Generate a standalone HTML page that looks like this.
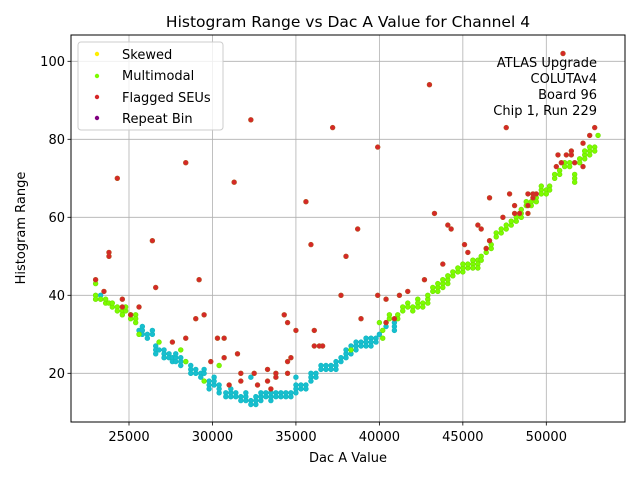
<!DOCTYPE html>
<html><head><meta charset="utf-8"><style>
html,body{margin:0;padding:0;background:#fff;}
svg{display:block;font-family:"DejaVu Sans","Liberation Sans",sans-serif;}
</style></head><body>
<svg id="chart" width="640" height="480" viewBox="0 0 640 480" xmlns="http://www.w3.org/2000/svg">
<rect width="640" height="480" fill="#fff"/>
<text x="348" y="27" font-size="15.5" text-anchor="middle">Histogram Range vs Dac A Value for Channel 4</text>
<g id="grid"></g>
<g id="marks"></g>
<rect x="71" y="35" width="554" height="387" fill="none" stroke="#000" stroke-width="1"/>
<g id="ticks"></g>
<text x="348" y="462" font-size="13" text-anchor="middle">Dac A Value</text>
<text transform="translate(25,228) rotate(-90)" font-size="13" text-anchor="middle">Histogram Range</text>
<g font-size="13" text-anchor="end">
<text x="597" y="67">ATLAS Upgrade</text>
<text x="597" y="83">COLUTAv4</text>
<text x="597" y="99">Board 96</text>
<text x="597" y="115">Chip 1, Run 229</text>
</g>
<g>
<rect x="78" y="42" width="145" height="88" rx="3" fill="#fff" fill-opacity="0.8" stroke="#ccc"/>
<g><circle cx="97" cy="54" r="2.2" fill="#ffee00"/><text x="122" y="59" font-size="13">Skewed</text></g>
<g><circle cx="97" cy="76" r="2.2" fill="#7cfc00"/><text x="122" y="80" font-size="13">Multimodal</text></g>
<g><circle cx="97" cy="97" r="2.2" fill="#d62728"/><text x="122" y="102" font-size="13">Flagged SEUs</text></g>
<g><circle cx="97" cy="118" r="2.2" fill="#800080"/><text x="122" y="123" font-size="13">Repeat Bin</text></g>
</g>
</svg>
<script>
const xTicks=[25000,30000,35000,40000,45000,50000];
const yTicks=[20,40,60,80,100];
const normalPts=[[23300,40],[25600,31],[25800,32],[25800,31],[25800,30],[26100,30],[26100,29],[26400,30],[26400,31],[26600,27],[26600,26],[26600,25],[26800,26],[27100,26],[27100,25],[27100,24],[27400,25],[27400,24],[27600,24],[27600,23],[27800,24],[27800,23],[27800,25],[28100,23],[28100,22],[28100,24],[28400,23],[28700,21],[28700,22],[28700,20],[29000,20],[29000,21],[29300,20],[29300,19],[29500,20],[29500,21],[29800,17],[29800,16],[29800,18],[30100,17],[30100,18],[30100,19],[30400,15],[30400,16],[30400,17],[30800,15],[30800,14],[31100,15],[31100,16],[31100,14],[31400,15],[31400,14],[31700,14],[31700,13],[32000,14],[32000,15],[32000,13],[32300,13],[32300,12],[32300,19],[32600,12],[32600,13],[32600,14],[32900,13],[32900,14],[32900,15],[33200,15],[33200,14],[33500,13],[33500,14],[33500,15],[33800,15],[33800,14],[34100,15],[34100,14],[34400,14],[34400,15],[34700,15],[34700,14],[35000,17],[35000,16],[35000,15],[35000,19],[35300,16],[35300,17],[35600,17],[35600,16],[35900,20],[35900,19],[35900,18],[36200,20],[36200,19],[36500,22],[36500,21],[36800,22],[36800,21],[37100,22],[37100,21],[37400,23],[37400,22],[37400,21],[37700,23],[37700,24],[38000,25],[38000,24],[38000,26],[38300,27],[38300,25],[38600,27],[38600,28],[38600,26],[38900,28],[38900,27],[39200,29],[39200,28],[39200,27],[39500,29],[39500,28],[39500,27],[39800,29],[39800,28],[40000,30],[40400,32],[40900,33],[40900,32],[40900,31]];
const multimodalPts=[[23000,40],[23000,39],[23000,43],[23300,39],[23600,38],[23600,39],[23800,38],[24000,37],[24000,38],[24300,37],[24300,36],[24600,36],[24600,35],[24800,36],[24800,37],[25100,34],[25100,35],[25400,35],[25400,33],[25400,34],[25600,30],[26800,28],[28100,26],[28400,23],[29500,18],[30400,22],[38300,26],[40000,33],[40200,31],[40200,29],[40400,33],[40600,34],[40600,35],[41100,35],[41100,34],[41400,37],[41400,36],[41700,38],[41700,37],[42000,37],[42000,36],[42300,39],[42300,38],[42300,37],[42600,38],[42600,37],[42900,39],[42900,40],[42900,38],[43200,41],[43200,42],[43500,42],[43500,43],[43500,41],[43800,43],[43800,44],[43800,42],[44100,43],[44100,44],[44100,45],[44400,45],[44400,46],[44700,46],[44700,47],[45000,46],[45000,47],[45000,48],[45300,47],[45300,48],[45600,48],[45600,49],[45600,47],[45900,49],[45900,48],[45900,47],[46100,50],[46100,49],[46400,51],[46400,52],[46700,52],[46700,53],[47000,56],[47000,55],[47300,56],[47300,57],[47600,57],[47600,58],[47900,58],[47900,59],[48200,60],[48200,59],[48500,62],[48500,61],[48500,60],[48800,64],[48800,63],[49100,64],[49100,63],[49400,65],[49400,64],[49700,67],[49700,66],[49700,68],[50000,67],[50000,66],[50200,68],[50200,67],[50500,70],[50500,71],[50800,72],[50800,71],[51100,74],[51100,73],[51400,74],[51400,73],[51700,71],[51700,70],[51700,69],[52000,75],[52000,74],[52300,76],[52300,77],[52300,75],[52600,77],[52600,78],[52600,76],[52900,78],[52900,77],[53100,81]];
const flaggedPts=[[23000,44],[23500,41],[23800,51],[23800,50],[24300,70],[24600,39],[24600,37],[25100,35],[25600,37],[26400,54],[26600,42],[27600,28],[28400,29],[28400,74],[29000,34],[29200,44],[29500,35],[29900,23],[30300,29],[30700,24],[30700,29],[31000,17],[31300,69],[31500,25],[31700,20],[31700,18],[32300,85],[32500,20],[32700,17],[33300,21],[33300,18],[33500,16],[33800,20],[33800,19],[34300,35],[34500,33],[34500,23],[34500,20],[34700,24],[35000,31],[35600,64],[35900,53],[36100,31],[36100,27],[36400,27],[36600,27],[37200,83],[37700,40],[38000,50],[38700,57],[38900,34],[39900,78],[39900,40],[40400,39],[40400,33],[40900,34],[41200,40],[41700,41],[42700,44],[43000,94],[43300,61],[43800,48],[44100,58],[44300,57],[45100,53],[45300,51],[45900,58],[46100,57],[46400,52],[46600,54],[46600,65],[47400,60],[47600,83],[47800,66],[48100,63],[48100,61],[48400,61],[48900,66],[48900,63],[48900,61],[49200,65],[49200,66],[49400,66],[50600,73],[50700,76],[50900,74],[51000,102],[51200,76],[51500,77],[51500,76],[51700,74],[52200,79],[52200,73],[52600,81],[52900,83]];

const NS="http://www.w3.org/2000/svg";
const L=71,R=625,T=35,B=422;
function xs(v){return 129+(v-25000)*(417.3/25000);}
function ys(v){return 373.3-(v-20)*3.9;}
const grid=document.getElementById('grid'),ticks=document.getElementById('ticks'),marks=document.getElementById('marks');
function mk(tag,attrs,parent){const e=document.createElementNS(NS,tag);for(const k in attrs)e.setAttribute(k,attrs[k]);parent.appendChild(e);return e;}
xTicks.forEach(v=>{const x=xs(v);
 const g=mk('line',{x1:x,x2:x,y1:T,y2:B,stroke:'#b0b0b0','stroke-width':0.8},grid);
 
 
 mk('line',{x1:x,x2:x,y1:B,y2:B+3.5,stroke:'#000','stroke-width':0.8},ticks);
 const t=mk('text',{x:x,y:B+19,'font-size':13,'text-anchor':'middle'},ticks);t.textContent=v;
 
 
});
yTicks.forEach(v=>{const y=ys(v);
 const g=mk('line',{x1:L,x2:R,y1:y,y2:y,stroke:'#b0b0b0','stroke-width':0.8},grid);
 
 
 mk('line',{x1:L-3.5,x2:L,y1:y,y2:y,stroke:'#000','stroke-width':0.8},ticks);
 const t=mk('text',{x:L-6,y:y+4.5,'font-size':13,'text-anchor':'end'},ticks);t.textContent=v;
 
 
});
function draw(arr,fill,stroke,name){arr.forEach(p=>{
 const c=mk('circle',{cx:xs(p[0]),cy:ys(p[1]),r:2.4,fill:fill,stroke:stroke,'stroke-width':0.6},marks);
 
 
});}
draw(normalPts,'#17becf','#12b8c0','normal-point');
draw(multimodalPts,'#7cfc00','#70e000','multimodal-point');
draw(flaggedPts,'#d62728','#b5521b','flagged-seu-point');
</script>
</body></html>
